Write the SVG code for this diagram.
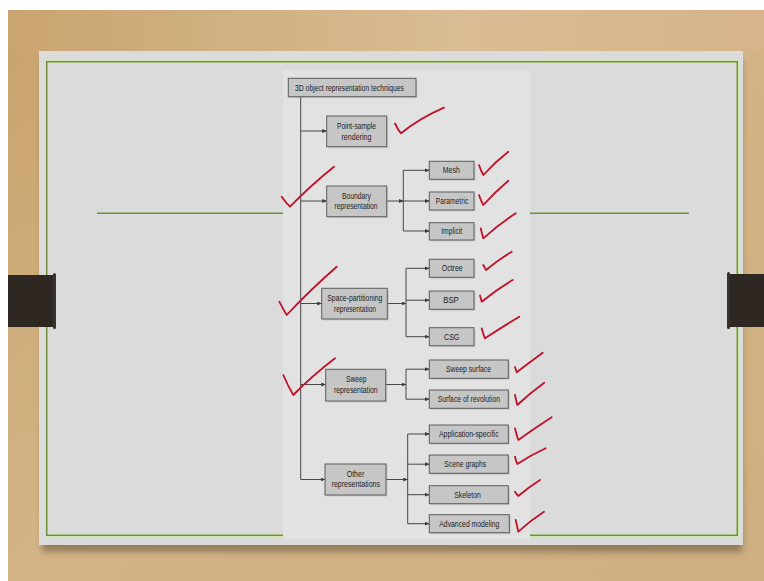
<svg xmlns="http://www.w3.org/2000/svg" width="764" height="581" viewBox="0 0 764 581">
<defs>
<linearGradient id="wood" x1="0" y1="0" x2="1" y2="1">
<stop offset="0" stop-color="#c9a26c"/>
<stop offset="0.5" stop-color="#d3b486"/>
<stop offset="1" stop-color="#cdaf80"/>
</linearGradient>
<linearGradient id="woodTop" x1="0" y1="0" x2="1" y2="0">
<stop offset="0" stop-color="#c9a46f"/>
<stop offset="0.6" stop-color="#d8bc93"/>
<stop offset="1" stop-color="#d7b48a"/>
</linearGradient>
<filter id="blur" x="-10%" y="-10%" width="120%" height="120%"><feGaussianBlur stdDeviation="3"/></filter>
<marker id="arr" markerWidth="5" markerHeight="4" refX="4.5" refY="2" orient="auto" markerUnits="userSpaceOnUse">
<path d="M0,0 L5,2 L0,4 Z" fill="#3c3c3c"/>
</marker>
<style>
.box{fill:#c6c6c6;stroke:#5c5c5c;stroke-width:1}
.sh{fill:#9a9a9a;opacity:0.35}
.t{font-family:"Liberation Sans",Arial,sans-serif;font-size:8.8px;fill:#222222;text-anchor:middle;dominant-baseline:central}
.ln{fill:none;stroke:#474747;stroke-width:1}
.ar{fill:none;stroke:#474747;stroke-width:1;marker-end:url(#arr)}
.gr{stroke:#6f8d3c;stroke-width:1.6;fill:none}
.ck{fill:none;stroke:#c0122b;stroke-width:1.8;stroke-linecap:round;stroke-linejoin:round}
</style>
</defs>
<!-- background -->
<rect x="0" y="0" width="764" height="581" fill="url(#wood)"/>
<rect x="0" y="0" width="764" height="52" fill="url(#woodTop)"/>
<rect x="0" y="0" width="764" height="10" fill="#ffffff"/>
<rect x="0" y="0" width="8" height="581" fill="#ffffff"/>
<!-- paper shadow -->
<rect x="42" y="60" width="700" height="492" fill="#5a4a35" opacity="0.5" filter="url(#blur)"/>
<!-- paper -->
<rect x="39" y="51" width="704" height="494" fill="#dbdbdb"/>
<!-- green frame -->
<rect x="46.7" y="61.7" width="690.6" height="473.6" fill="none" stroke="#dff0c0" stroke-width="3"/>
<rect x="46.7" y="61.7" width="690.6" height="473.6" class="gr"/>
<line x1="97" y1="213.3" x2="283" y2="213.3" class="gr"/>
<line x1="530" y1="213.3" x2="689" y2="213.3" class="gr"/>
<!-- clamps -->
<rect x="8" y="275" width="48" height="52" fill="#2f2721"/>
<rect x="53" y="273" width="3" height="56" rx="1.5" fill="#3a312a"/>
<rect x="728" y="274" width="36" height="53" fill="#2f2721"/>
<rect x="727" y="272" width="3" height="57" rx="1.5" fill="#3a312a"/>
<!-- diagram panel -->
<rect x="283" y="70" width="247" height="469" fill="#e2e2e2"/>

<g id="connectors">
<line class="ln" x1="300.7" y1="96.7" x2="300.7" y2="479.5"/>
<line class="ar" x1="300.7" y1="131" x2="326.7" y2="131"/>
<line class="ar" x1="300.7" y1="201" x2="326.7" y2="201"/>
<line class="ar" x1="300.7" y1="303.5" x2="321.7" y2="303.5"/>
<line class="ar" x1="300.7" y1="384.5" x2="325.7" y2="384.5"/>
<line class="ar" x1="300.7" y1="479.5" x2="325" y2="479.5"/>
<!-- boundary -->
<line class="ar" x1="386.7" y1="201" x2="403.3" y2="201"/>
<line class="ln" x1="403.3" y1="170.3" x2="403.3" y2="231"/>
<line class="ar" x1="403.3" y1="170.3" x2="429.3" y2="170.3"/>
<line class="ar" x1="403.3" y1="201" x2="429.3" y2="201"/>
<line class="ar" x1="403.3" y1="231" x2="429.3" y2="231"/>
<!-- space -->
<line class="ar" x1="387.3" y1="303.5" x2="406" y2="303.5"/>
<line class="ln" x1="406" y1="268.3" x2="406" y2="336.7"/>
<line class="ar" x1="406" y1="268.3" x2="429.3" y2="268.3"/>
<line class="ar" x1="406" y1="300.2" x2="429.3" y2="300.2"/>
<line class="ar" x1="406" y1="336.7" x2="429.3" y2="336.7"/>
<!-- sweep -->
<line class="ar" x1="385.7" y1="384.5" x2="406" y2="384.5"/>
<line class="ln" x1="406" y1="369.2" x2="406" y2="399.2"/>
<line class="ar" x1="406" y1="369.2" x2="429.3" y2="369.2"/>
<line class="ar" x1="406" y1="399.2" x2="429.3" y2="399.2"/>
<!-- other -->
<line class="ar" x1="386" y1="479.5" x2="407.7" y2="479.5"/>
<line class="ln" x1="407.7" y1="434" x2="407.7" y2="523.7"/>
<line class="ar" x1="407.7" y1="434" x2="429.3" y2="434"/>
<line class="ar" x1="407.7" y1="464.2" x2="429.3" y2="464.2"/>
<line class="ar" x1="407.7" y1="494.7" x2="429.3" y2="494.7"/>
<line class="ar" x1="407.7" y1="523.7" x2="429.3" y2="523.7"/>
</g>

<g id="root"><rect class="sh" x="289.8" y="79.8" width="127.7" height="18.4"/><rect class="box" x="288.3" y="78.3" width="127.7" height="18.4"/><text class="t" x="349.5" y="87.5" textLength="109" lengthAdjust="spacingAndGlyphs">3D object representation techniques</text></g>

<g id="point-sample"><rect class="sh" x="328.2" y="117.5" width="60" height="30.7"/><rect class="box" x="326.7" y="116" width="60" height="30.7"/><text class="t" x="356.5" y="126" textLength="39" lengthAdjust="spacingAndGlyphs">Point-sample</text><text class="t" x="356.5" y="136.7" textLength="30" lengthAdjust="spacingAndGlyphs">rendering</text></g>

<g id="boundary"><rect class="sh" x="328.2" y="187.5" width="60" height="30.7"/><rect class="box" x="326.7" y="186" width="60" height="30.7"/><text class="t" x="356.5" y="196" textLength="29" lengthAdjust="spacingAndGlyphs">Boundary</text><text class="t" x="356" y="206" textLength="43" lengthAdjust="spacingAndGlyphs">representation</text></g>

<g id="space-partitioning"><rect class="sh" x="323.2" y="289.8" width="65.6" height="30.7"/><rect class="box" x="321.7" y="288.3" width="65.6" height="30.7"/><text class="t" x="354.8" y="297.8" textLength="55" lengthAdjust="spacingAndGlyphs">Space-partitioning</text><text class="t" x="355" y="309" textLength="42" lengthAdjust="spacingAndGlyphs">representation</text></g>

<g id="sweep"><rect class="sh" x="327.2" y="370.8" width="60" height="31.7"/><rect class="box" x="325.7" y="369.3" width="60" height="31.7"/><text class="t" x="356.3" y="378.5" textLength="20.7" lengthAdjust="spacingAndGlyphs">Sweep</text><text class="t" x="355.8" y="390" textLength="43.7" lengthAdjust="spacingAndGlyphs">representation</text></g>

<g id="other"><rect class="sh" x="326.5" y="465.5" width="61" height="31"/><rect class="box" x="325" y="464" width="61" height="31"/><text class="t" x="355.5" y="473.8" textLength="17.6" lengthAdjust="spacingAndGlyphs">Other</text><text class="t" x="355.8" y="484.2" textLength="48.3" lengthAdjust="spacingAndGlyphs">representations</text></g>

<g id="mesh"><rect class="sh" x="430.8" y="162.8" width="44.7" height="18"/><rect class="box" x="429.3" y="161.3" width="44.7" height="18"/><text class="t" x="451.3" y="170.3" textLength="17" lengthAdjust="spacingAndGlyphs">Mesh</text></g>
<g id="parametric"><rect class="sh" x="430.8" y="193.5" width="44.7" height="18"/><rect class="box" x="429.3" y="192" width="44.7" height="18"/><text class="t" x="452" y="201" textLength="32.5" lengthAdjust="spacingAndGlyphs">Parametric</text></g>
<g id="implicit"><rect class="sh" x="430.8" y="224.2" width="44.7" height="17.3"/><rect class="box" x="429.3" y="222.7" width="44.7" height="17.3"/><text class="t" x="451.7" y="231.3" textLength="21" lengthAdjust="spacingAndGlyphs">Implicit</text></g>
<g id="octree"><rect class="sh" x="430.8" y="260.8" width="44.7" height="18"/><rect class="box" x="429.3" y="259.3" width="44.7" height="18"/><text class="t" x="452.2" y="268.3" textLength="21" lengthAdjust="spacingAndGlyphs">Octree</text></g>
<g id="bsp"><rect class="sh" x="430.8" y="292.5" width="44.7" height="18.3"/><rect class="box" x="429.3" y="291" width="44.7" height="18.3"/><text class="t" x="451" y="300.2" textLength="15.5" lengthAdjust="spacingAndGlyphs">BSP</text></g>
<g id="csg"><rect class="sh" x="430.8" y="329.2" width="44.7" height="18"/><rect class="box" x="429.3" y="327.7" width="44.7" height="18"/><text class="t" x="451.7" y="336.7" textLength="15.3" lengthAdjust="spacingAndGlyphs">CSG</text></g>
<g id="sweep-surface"><rect class="sh" x="430.8" y="361.5" width="79" height="18.3"/><rect class="box" x="429.3" y="360" width="79" height="18.3"/><text class="t" x="468.5" y="369.2" textLength="45" lengthAdjust="spacingAndGlyphs">Sweep surface</text></g>
<g id="surface-of-revolution"><rect class="sh" x="430.8" y="391.5" width="79" height="18.3"/><rect class="box" x="429.3" y="390" width="79" height="18.3"/><text class="t" x="468.8" y="399.2" textLength="62.3" lengthAdjust="spacingAndGlyphs">Surface of revolution</text></g>
<g id="application-specific"><rect class="sh" x="430.8" y="426.5" width="79" height="18.3"/><rect class="box" x="429.3" y="425" width="79" height="18.3"/><text class="t" x="468.8" y="433.6" textLength="59.7" lengthAdjust="spacingAndGlyphs">Application-specific</text></g>
<g id="scene-graphs"><rect class="sh" x="430.8" y="456.5" width="79" height="18.3"/><rect class="box" x="429.3" y="455" width="79" height="18.3"/><text class="t" x="465.2" y="463.6" textLength="41.7" lengthAdjust="spacingAndGlyphs">Scene graphs</text></g>
<g id="skeleton"><rect class="sh" x="430.8" y="487.2" width="79" height="18"/><rect class="box" x="429.3" y="485.7" width="79" height="18"/><text class="t" x="467.5" y="494.5" textLength="26.4" lengthAdjust="spacingAndGlyphs">Skeleton</text></g>
<g id="advanced-modeling"><rect class="sh" x="430.8" y="516.2" width="80" height="18"/><rect class="box" x="429.3" y="514.7" width="80" height="18"/><text class="t" x="469.3" y="523.7" textLength="60" lengthAdjust="spacingAndGlyphs">Advanced modeling</text></g>

<g id="checkmarks">
<path class="ck" d="M395,123.5 Q398,130 401,133.3 Q420,118 444,107.7"/>
<path class="ck" d="M281.7,196.7 Q286,203 290,206.7 Q310,186 334,166.7"/>
<path class="ck" d="M479,165 Q481,171 483.3,175 Q495,162 508.3,151.7"/>
<path class="ck" d="M479,195 Q481,201 483.3,205 Q495,192 508.3,180.7"/>
<path class="ck" d="M480.7,228.3 Q482,234 483.3,238.3 Q498,225 515.7,213.3"/>
<path class="ck" d="M483.3,265 Q485,268 486,270 Q498,260 511.7,251.7"/>
<path class="ck" d="M480,295.5 Q481,299 481.7,301.7 Q496,290 512.7,280"/>
<path class="ck" d="M481.7,328.3 Q483,334 485,338.3 Q502,327 519.3,316.7"/>
<path class="ck" d="M279.3,301.7 Q283,309 286.7,315 Q310,290 336.7,266.7"/>
<path class="ck" d="M283.3,375 Q288,386 293.3,395 Q312,376 335,358.3"/>
<path class="ck" d="M515,367 Q516,370 516.7,372.3 Q530,362 542.7,352.7"/>
<path class="ck" d="M515,395 Q516,400 517.3,405 Q530,393 544.3,382.7"/>
<path class="ck" d="M515,428.3 Q516.5,435 518.3,440 Q535,428 551.7,417.3"/>
<path class="ck" d="M515,456.7 Q516,461 517.3,464 Q531,455 545.7,448.3"/>
<path class="ck" d="M515,491.7 Q516.5,494 518.3,496 Q529,487 540,480"/>
<path class="ck" d="M515.7,520 Q517,526 518.3,531.7 Q531,520 544,511.7"/>
</g>
</svg>
